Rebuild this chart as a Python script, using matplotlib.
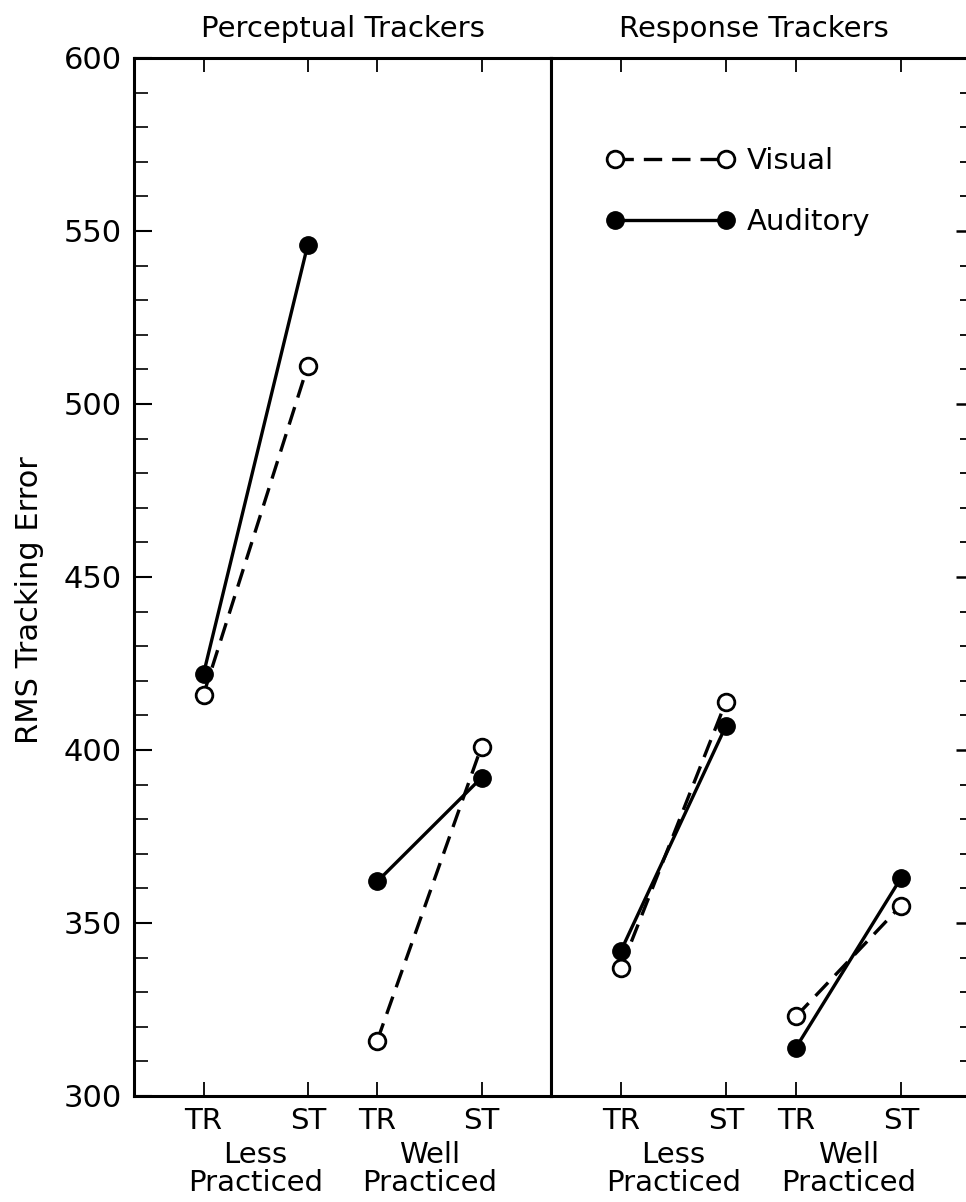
import matplotlib.pyplot as plt
from matplotlib.ticker import MultipleLocator

plt.rcParams['font.family'] = ['DejaVu Sans']

# data (RMS tracking error)
conditions = ['TR', 'ST', 'TR', 'ST']
groups = ['Less\nPracticed', 'Well\nPracticed']
x_less = [2, 5]
x_well = [7, 10]

perc_visual_less = [416, 511]
perc_auditory_less = [422, 546]
perc_visual_well = [316, 401]
perc_auditory_well = [362, 392]

resp_visual_less = [337, 414]
resp_auditory_less = [342, 407]
resp_visual_well = [323, 355]
resp_auditory_well = [314, 363]

panels = [
    ('Perceptual Trackers', perc_visual_less, perc_auditory_less,
     perc_visual_well, perc_auditory_well),
    ('Response Trackers', resp_visual_less, resp_auditory_less,
     resp_visual_well, resp_auditory_well),
]

W, H = 966, 1202
fig = plt.figure(figsize=(W / 100, H / 100), dpi=100)
bottom = (H - 1096) / H
height = 1038 / H
ax1 = fig.add_axes([134 / W, bottom, 417 / W, height])
ax2 = fig.add_axes([551 / W, bottom, 420 / W, height])

fs = 21
vis_style = dict(color='black', ls=(0, (5.5, 3)), lw=2.4, marker='o',
                 ms=12, mfc='white', mec='black', mew=2)
aud_style = dict(color='black', ls='-', lw=2.4, marker='o',
                 ms=12.5, mfc='black', mec='black')

for ax, (title, vl, al, vw, aw) in zip([ax1, ax2], panels):
    ax.plot(x_less, vl, label='Visual', **vis_style)
    ax.plot(x_well, vw, **vis_style)
    ax.plot(x_less, al, label='Auditory', **aud_style)
    ax.plot(x_well, aw, **aud_style)

    ax.set_xlim(0, 12)
    ax.set_ylim(300, 600)
    ax.set_xticks(x_less + x_well)
    ax.set_xticklabels(conditions, fontsize=fs)
    ax.tick_params(axis='x', direction='in', length=10, width=1.3,
                   top=True, pad=8)
    for xs, g in zip([x_less, x_well], groups):
        ax.text(sum(xs) / 2, -0.043, g, transform=ax.get_xaxis_transform(),
                ha='center', va='top', fontsize=fs, linespacing=1.02)
    for s in ax.spines.values():
        s.set_linewidth(2.2)

ax1.set_title('Perceptual Trackers', fontsize=fs, pad=15)
ax2.set_title('Response Trackers', fontsize=fs, pad=15, x=0.483)

ax1.yaxis.set_major_locator(MultipleLocator(50))
ax1.yaxis.set_minor_locator(MultipleLocator(10))
ax1.tick_params(axis='y', which='major', direction='in', length=13,
                width=1.5, labelsize=fs + 1, pad=9)
ax1.tick_params(axis='y', which='minor', direction='in', length=10, width=1.2)
ax1.set_ylabel('RMS Tracking Error', fontsize=fs + 1)
ax1.yaxis.set_label_coords(-0.216, 0.478)

ax2.yaxis.set_major_locator(MultipleLocator(50))
ax2.yaxis.set_minor_locator(MultipleLocator(10))
ax2.tick_params(axis='y', which='both', left=False, labelleft=False,
                right=True, direction='in')
ax2.tick_params(axis='y', which='major', length=11, width=1.8)
ax2.tick_params(axis='y', which='minor', length=8, width=1.3)

ax2.legend(loc='upper left', bbox_to_anchor=(0.098, 0.928), frameon=False,
           numpoints=2, handlelength=4.4, handletextpad=0.4,
           fontsize=fs, labelspacing=1.12, borderpad=0)

fig.savefig('out.png', dpi=100, facecolor='w')
plt.close()
